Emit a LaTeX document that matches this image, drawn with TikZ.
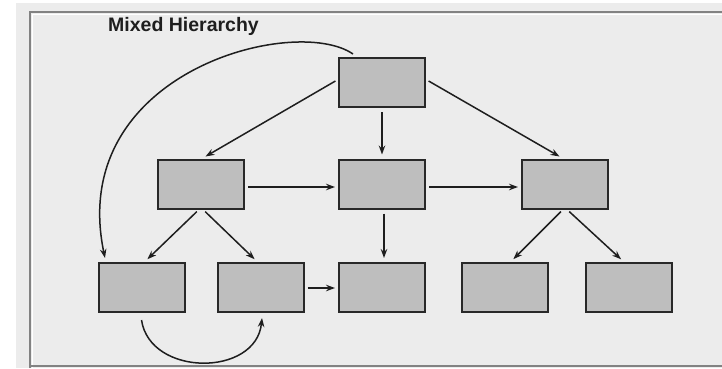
\documentclass[tikz,border=0pt]{standalone}
\usepackage{fontspec}
\setmainfont{Liberation Sans}
\usetikzlibrary{arrows.meta}
\definecolor{paper}{RGB}{236,236,236}
\definecolor{boxfill}{RGB}{190,190,190}
\definecolor{boxline}{RGB}{40,40,40}
\definecolor{frameline}{RGB}{130,130,130}
\definecolor{ink}{RGB}{30,30,30}
\tikzset{
  blk/.style={draw=boxline, line width=2pt, fill=boxfill, minimum width=86pt, minimum height=49pt, inner sep=0pt},
  arr/.style={draw=ink, line width=1.5pt, -{Stealth[length=9pt,width=6.5pt]}},
  ttl/.style={font=\fontsize{19.5}{23}\selectfont\bfseries, text=ink, inner sep=0pt, anchor=base west}
}
\begin{document}
\begin{tikzpicture}[x=1pt,y=-1pt]
\useasboundingbox (0,0) rectangle (722,368);
\fill[white] (0,0) rectangle (722,368);
\fill[paper] (16,3) rectangle (722,368);
% frame
\draw[frameline, line width=2pt] (30,368) -- (30,12) -- (722,12);
\draw[white, line width=1.2pt] (32.5,368) -- (32.5,14.5) -- (722,14.5);
\draw[frameline, line width=1.5pt] (30,366) -- (722,366);
% title
\node[ttl] (title) at (108,31.5) {Mixed Hierarchy};
% boxes
\node[blk] (top) at (382,82.5) {};
\node[blk] (L) at (201,184) {};
\node[blk] (M) at (382,184) {};
\node[blk] (R) at (565,184) {};
\node[blk] (A) at (141.5,287.5) {};
\node[blk] (B) at (260.5,287.5) {};
\node[blk] (C) at (382,287.5) {};
\node[blk] (D) at (504.5,287.5) {};
\node[blk] (E) at (629,287.5) {};
% arrows
\draw[arr, shorten <=3pt, shorten >=4pt] ([yshift=3pt]top.west) -- ([xshift=1pt]L.north);
\draw[arr, shorten <=4pt, shorten >=4pt] (top.south) -- (M.north);
\draw[arr, shorten <=3pt, shorten >=4pt] ([yshift=3pt]top.east) -- ([xshift=-2pt]R.north);
\draw[arr, shorten <=3pt, shorten >=3pt] ([yshift=-3pt]L.east) -- ([yshift=-3pt]M.west);
\draw[arr, shorten <=3pt, shorten >=3pt] ([yshift=-3pt]M.east) -- ([yshift=-3pt]R.west);
\draw[arr, shorten <=3pt, shorten >=4pt] ([xshift=-2pt]L.south) -- ([xshift=3pt]A.north);
\draw[arr, shorten <=3pt, shorten >=4pt] ([xshift=2pt]L.south) -- ([xshift=-3pt]B.north);
\draw[arr, shorten <=4pt, shorten >=4pt] ([xshift=2pt]M.south) -- ([xshift=2pt]C.north);
\draw[arr, shorten <=3pt, shorten >=3pt] ([yshift=-0.5pt]B.east) -- ([yshift=-0.5pt]C.west);
\draw[arr, shorten <=3pt, shorten >=4pt] ([xshift=-2pt]R.south) -- ([xshift=6pt]D.north);
\draw[arr, shorten <=3pt, shorten >=4pt] ([xshift=2pt]R.south) -- ([xshift=-5pt]E.north);
% curved arrows
\draw[arr] ([xshift=15pt,yshift=3pt]top.north west) .. controls (295,14) and (66,72) .. ([xshift=-36.5pt,yshift=4pt]A.north);
\draw[arr] ([yshift=-7pt]A.south) .. controls (150,377) and (256,377) .. ([xshift=1.5pt,yshift=-5pt]B.south);
\end{tikzpicture}
\end{document}
